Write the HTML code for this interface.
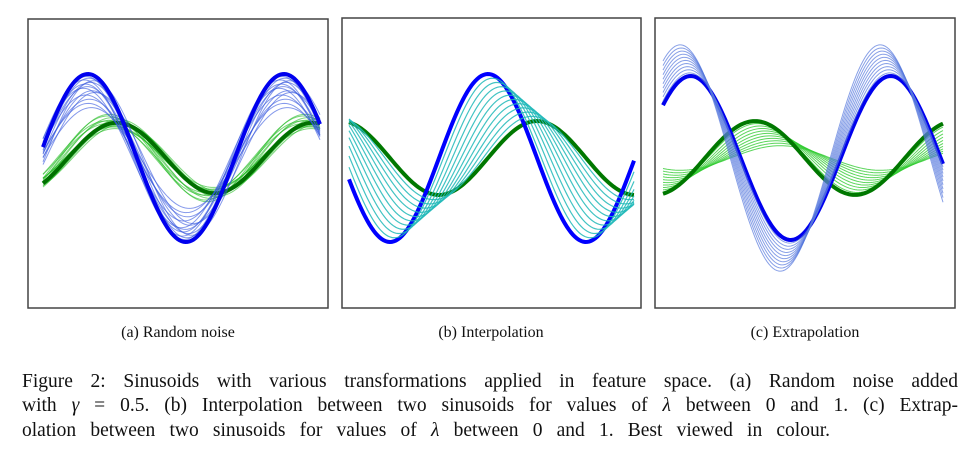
<!DOCTYPE html>
<html><head><meta charset="utf-8">
<style>
html,body{margin:0;padding:0;background:#fff;width:978px;height:463px;overflow:hidden}
svg{position:absolute;left:0;top:0}
.cap{position:absolute;font-family:"Liberation Serif",serif;font-size:16px;color:#111;white-space:nowrap}
#figtext{position:absolute;left:22px;top:370px;width:936px;font-family:"Liberation Serif",serif;font-size:19.5px;line-height:24.3px;color:#111}
#figtext .j{text-align:justify;text-align-last:justify;white-space:nowrap}
#figtext .l{width:808px}
</style></head><body>
<svg id="chart" width="978" height="463"></svg>
<div class="cap" style="left:178px;top:324px;transform:translateX(-50%)">(a) Random noise</div>
<div class="cap" style="left:491px;top:324px;transform:translateX(-50%)">(b) Interpolation</div>
<div class="cap" style="left:805px;top:324px;transform:translateX(-50%)">(c) Extrapolation</div>
<div id="figtext">
<div class="j">Figure 2: Sinusoids with various transformations applied in feature space. (a) Random noise added</div>
<div class="j">with <i>γ</i> = 0.5. (b) Interpolation between two sinusoids for values of <i>λ</i> between 0 and 1. (c) Extrap-</div>
<div class="j l">olation between two sinusoids for values of <i>λ</i> between 0 and 1. Best viewed in colour.</div>
</div>
<script>
// Panel (a) random noise: base curves and noisy variants (amplitude, phase)
const aBase = {blueAmp:1.0, bluePhase:0.13, greenAmp:0.42, greenPhase:-0.80};
const aNoiseBlueAmp   = [0.95,0.9,0.85,0.8,0.75,0.7,0.92,0.88,0.65,0.97,0.78,0.83,0.6,0.93];
const aNoiseBluePhase = [0.10,0.05,0.15,0.0,0.2,0.08,-0.05,0.22,0.12,0.18,-0.1,0.28,0.02,0.25];
const aNoiseGreenAmp   = [0.45,0.5,0.38,0.42,0.48,0.35,0.44,0.4,0.52,0.37,0.46,0.41];
const aNoiseGreenPhase = [-0.6,-0.5,-0.7,-0.9,-0.65,-0.75,-0.45,-0.95,-0.55,-0.7,-0.85,-0.5];
// Panel (b) interpolation
const bBase = {blueAmp:1.0, bluePhase:-2.885, greenAmp:0.44, greenPhase:-4.455};
const bLambdas = [0.09,0.18,0.27,0.36,0.45,0.54,0.63,0.72,0.81,0.9];
// Panel (c) extrapolation
const cBase = {blueAmp:1.0, bluePhase:0.70, greenAmp:0.45, greenPhase:-1.319};
const cLambdas = [0.1,0.2,0.3,0.4,0.5,0.6,0.7,0.8,0.9,1.0];
const cBlueAmpGain = 0.38, cBluePhaseGain = 0.33;
const cGreenAmpGain = -0.3, cGreenPhaseGain = -0.8;

const panels = [
  {name:'a', box:[28,19,300,289], x0:43, x1:320, period:196/277, cy:158, unit:84},
  {name:'b', box:[342,18,299,290], x0:349, x1:634, period:196/285, cy:158, unit:84},
  {name:'c', box:[655,18,300,290], x0:663, x1:943, period:200/280, cy:158, unit:82}
];
const NS='http://www.w3.org/2000/svg';
const svg=document.getElementById('chart');
function sinF(A,ph,w){return t=>A*Math.sin(w*t+ph);}
function draw(p,f,color,width,opacity,name){
  const xs=t=>p.x0+t*(p.x1-p.x0), ys=v=>p.cy-v*p.unit;
  let d='';
  for(let i=0;i<=140;i++){const t=i/140;d+=(i?'L':'M')+xs(t).toFixed(2)+','+ys(f(t)).toFixed(2);}
  const el=document.createElementNS(NS,'path');
  el.setAttribute('d',d);el.setAttribute('fill','none');el.setAttribute('stroke',color);
  el.setAttribute('stroke-width',width);el.setAttribute('stroke-opacity',opacity);
  
  
  svg.appendChild(el);
}
panels.forEach(p=>{
  const r=document.createElementNS(NS,'rect');
  r.setAttribute('x',p.box[0]);r.setAttribute('y',p.box[1]);r.setAttribute('width',p.box[2]);r.setAttribute('height',p.box[3]);
  r.setAttribute('fill','#fff');r.setAttribute('stroke','#444');r.setAttribute('stroke-width','1.5');
  
  
  svg.appendChild(r);
});
// (a)
(function(){const p=panels[0],w=2*Math.PI/p.period;
  aNoiseGreenAmp.forEach((A,i)=>draw(p,sinF(A,aNoiseGreenPhase[i],w),'#22bb22',1,0.6,'noisy-green-curve'));
  draw(p,sinF(aBase.greenAmp,aBase.greenPhase,w),'#007000',4,1,'base-green-curve');
  aNoiseBlueAmp.forEach((A,i)=>draw(p,sinF(A,aNoiseBluePhase[i],w),'#3355dd',1,0.6,'noisy-blue-curve'));
  draw(p,sinF(aBase.blueAmp,aBase.bluePhase,w),'#0000ee',4,1,'base-blue-curve');
})();
// (b)
(function(){const p=panels[1],w=2*Math.PI/p.period;
  draw(p,sinF(bBase.greenAmp,bBase.greenPhase,w),'#007800',4,1,'base-green-curve');
  draw(p,sinF(bBase.blueAmp,bBase.bluePhase,w),'#0000ff',4,1,'base-blue-curve');
  bLambdas.forEach(l=>{
    const A=(1-l)*bBase.blueAmp+l*bBase.greenAmp, ph=(1-l)*bBase.bluePhase+l*bBase.greenPhase;
    draw(p,sinF(A,ph,w),'#20b8b8',1.2,0.85,'interpolated-curve');
  });
})();
// (c)
(function(){const p=panels[2],w=2*Math.PI/p.period;
  cLambdas.forEach(l=>draw(p,sinF(cBase.greenAmp+l*cGreenAmpGain,cBase.greenPhase+l*cGreenPhaseGain,w),'#33cc33',1,0.8,'extrapolated-green-curve'));
  draw(p,sinF(cBase.greenAmp,cBase.greenPhase,w),'#007800',4,1,'base-green-curve');
  draw(p,sinF(cBase.blueAmp,cBase.bluePhase,w),'#0000ee',4,1,'base-blue-curve');
  cLambdas.forEach(l=>draw(p,sinF(cBase.blueAmp+l*cBlueAmpGain,cBase.bluePhase+l*cBluePhaseGain,w),'#5577dd',1,0.7,'extrapolated-blue-curve'));
})();
</script>
</body></html>
